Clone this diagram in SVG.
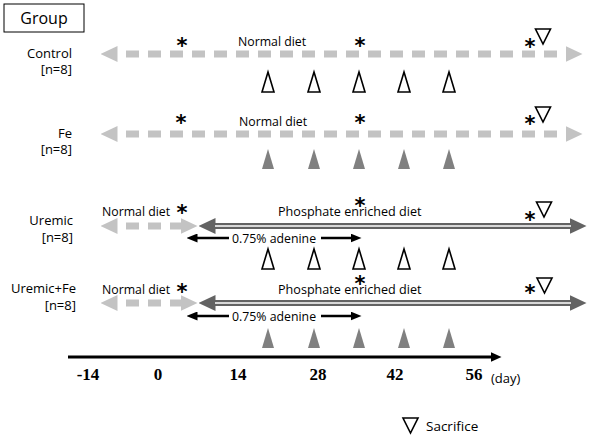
<svg xmlns="http://www.w3.org/2000/svg" width="600" height="438" viewBox="0 0 600 438">
<style>
.lbl{font-family:"Open Sans","Noto Sans",sans-serif;font-size:13px;fill:#000}
.diet{font-family:"Open Sans","Noto Sans",sans-serif;font-size:12.3px;fill:#000}
.ast{font-family:"DejaVu Sans",sans-serif;font-weight:bold;font-size:21px;fill:#000;text-anchor:middle}
.tick{font-family:"Liberation Serif",serif;font-weight:bold;font-size:17px;fill:#000;text-anchor:middle}
.dash{stroke:#c3c3c3;stroke-width:7;stroke-dasharray:13 9;stroke-dashoffset:13;fill:none}
.dark{stroke:#636363;stroke-width:6;fill:none}
.inner{stroke:#fff;stroke-width:1.6;fill:none}
.ade{stroke:#000;stroke-width:2.5;fill:none}
.open{fill:#fff;stroke:#000;stroke-width:1.6}
.fill{fill:#808080}
.sac{fill:#fff;stroke:#000;stroke-width:1.6}
</style>
<defs>
<marker id="gh" viewBox="0 0 17 16" markerWidth="17" markerHeight="16" refX="0.5" refY="8" orient="auto-start-reverse" markerUnits="userSpaceOnUse"><path d="M0,0 L17,8 L0,16 z" fill="#c3c3c3"/></marker>
<marker id="dh" viewBox="0 0 17 16" markerWidth="17" markerHeight="16" refX="0.5" refY="8" orient="auto-start-reverse" markerUnits="userSpaceOnUse"><path d="M0,0 L17,8 L0,16 z" fill="#636363"/></marker>
<marker id="bh" viewBox="0 0 11 9" markerWidth="11" markerHeight="9" refX="0.5" refY="4.5" orient="auto-start-reverse" markerUnits="userSpaceOnUse"><path d="M0,0 L11,4.5 L0,9 z" fill="#000"/></marker>
<marker id="ax" viewBox="0 0 11 10" markerWidth="11" markerHeight="10" refX="0.5" refY="5" orient="auto" markerUnits="userSpaceOnUse"><path d="M0,0 L11,5 L0,10 z" fill="#000"/></marker>
<path id="otri" d="M0,-10 L6,10 L-6,10 z"/>
<path id="stri" d="M-7.5,-7.5 L7.5,-7.5 L0,7.5 z"/>
</defs>

<g id="group-box">
<rect x="4" y="4" width="80" height="28" fill="#fff" stroke="#000" stroke-width="1"/>
<text x="44" y="23.5" class="lbl" style="font-size:16px" text-anchor="middle">Group</text>
</g>

<g id="connectors">
<line x1="117" y1="54" x2="566" y2="54" class="dash" marker-start="url(#gh)" marker-end="url(#gh)"/>
<line x1="117" y1="134" x2="566" y2="134" class="dash" marker-start="url(#gh)" marker-end="url(#gh)"/>
<line x1="117" y1="226" x2="181" y2="226" class="dash" marker-start="url(#gh)" marker-end="url(#gh)"/>
<line x1="117" y1="303" x2="181" y2="303" class="dash" marker-start="url(#gh)" marker-end="url(#gh)"/>
<line x1="215" y1="226" x2="570" y2="226" class="dark" marker-start="url(#dh)" marker-end="url(#dh)"/>
<line x1="215" y1="226" x2="571" y2="226" class="inner"/>
<line x1="215" y1="303" x2="570" y2="303" class="dark" marker-start="url(#dh)" marker-end="url(#dh)"/>
<line x1="215" y1="303" x2="571" y2="303" class="inner"/>
<line x1="197" y1="238" x2="229" y2="238" class="ade" marker-start="url(#bh)"/>
<line x1="321" y1="238" x2="351" y2="238" class="ade" marker-end="url(#bh)"/>
<line x1="197" y1="316" x2="229" y2="316" class="ade" marker-start="url(#bh)"/>
<line x1="321" y1="316" x2="351" y2="316" class="ade" marker-end="url(#bh)"/>
</g>

<g id="row-control">
<text x="72" y="58" class="lbl" text-anchor="end">Control</text>
<text x="72" y="74" class="lbl" text-anchor="end">[n=8]</text>
<text x="238" y="46" class="diet">Normal diet</text>
<text x="182" y="53" class="ast">*</text>
<text x="360" y="53" class="ast">*</text>
<text x="530" y="54" class="ast">*</text>
<use href="#stri" x="543" y="36.5" class="sac"/>
<use href="#otri" x="268" y="82" class="open"/>
<use href="#otri" x="314" y="82" class="open"/>
<use href="#otri" x="359" y="82" class="open"/>
<use href="#otri" x="404" y="82" class="open"/>
<use href="#otri" x="449" y="82" class="open"/>
</g>

<g id="row-fe">
<text x="72" y="138" class="lbl" text-anchor="end">Fe</text>
<text x="72" y="154" class="lbl" text-anchor="end">[n=8]</text>
<text x="239" y="126" class="diet">Normal diet</text>
<text x="181" y="130" class="ast">*</text>
<text x="360" y="130" class="ast">*</text>
<text x="530" y="131" class="ast">*</text>
<use href="#stri" x="543" y="114.5" class="sac"/>
<use href="#otri" x="268" y="159" class="fill"/>
<use href="#otri" x="314" y="159" class="fill"/>
<use href="#otri" x="359" y="159" class="fill"/>
<use href="#otri" x="404" y="159" class="fill"/>
<use href="#otri" x="449" y="159" class="fill"/>
</g>

<g id="row-uremic">
<text x="73" y="225" class="lbl" text-anchor="end">Uremic</text>
<text x="73" y="242" class="lbl" text-anchor="end">[n=8]</text>
<text x="102" y="216" class="diet">Normal diet</text>
<text x="278" y="216" class="diet" style="font-size:12.6px">Phosphate enriched diet</text>
<text x="232" y="242.5" class="diet">0.75% adenine</text>
<text x="182" y="220" class="ast">*</text>
<text x="360" y="213" class="ast">*</text>
<text x="530" y="227" class="ast">*</text>
<use href="#stri" x="544" y="209.5" class="sac"/>
<use href="#otri" x="268" y="259" class="open"/>
<use href="#otri" x="314" y="259" class="open"/>
<use href="#otri" x="359" y="259" class="open"/>
<use href="#otri" x="404" y="259" class="open"/>
<use href="#otri" x="449" y="259" class="open"/>
</g>

<g id="row-uremic-fe">
<text x="76" y="293" class="lbl" text-anchor="end">Uremic+Fe</text>
<text x="76" y="310" class="lbl" text-anchor="end">[n=8]</text>
<text x="102" y="294" class="diet">Normal diet</text>
<text x="278" y="294" class="diet" style="font-size:12.6px">Phosphate enriched diet</text>
<text x="232" y="320.5" class="diet">0.75% adenine</text>
<text x="182" y="299" class="ast">*</text>
<text x="360" y="291" class="ast">*</text>
<text x="530" y="300" class="ast">*</text>
<use href="#stri" x="544.5" y="285.5" class="sac"/>
<use href="#otri" x="268" y="338" class="fill"/>
<use href="#otri" x="314" y="338" class="fill"/>
<use href="#otri" x="359" y="338" class="fill"/>
<use href="#otri" x="404" y="338" class="fill"/>
<use href="#otri" x="449" y="338" class="fill"/>
</g>

<g id="axis">
<line x1="68" y1="357" x2="491" y2="357" stroke="#000" stroke-width="3" marker-end="url(#ax)"/>
<text x="88" y="380" class="tick">-14</text>
<text x="158" y="380" class="tick">0</text>
<text x="238" y="380" class="tick">14</text>
<text x="318" y="380" class="tick">28</text>
<text x="395" y="380" class="tick">42</text>
<text x="474" y="380" class="tick">56</text>
<text x="491" y="383" class="lbl">(day)</text>
</g>

<g id="legend">
<use href="#stri" x="410.5" y="425.5" class="sac"/>
<text x="426" y="431" class="lbl" style="font-size:13.5px">Sacrifice</text>
</g>
</svg>
